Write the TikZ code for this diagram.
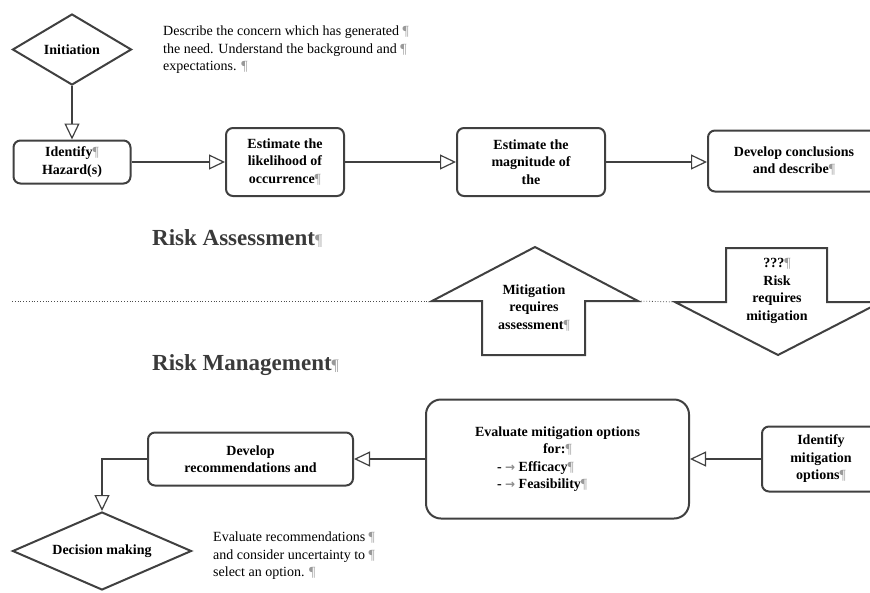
\documentclass[tikz,border=0pt]{standalone}
\usepackage{fontspec}
\setmainfont{Liberation Serif}
\newfontfamily\dejavu{DejaVu Sans}
\usepackage{tikz}
\usetikzlibrary{arrows.meta, positioning, shapes.geometric}

\definecolor{linegray}{HTML}{404040}
\definecolor{headgray}{HTML}{3A3A3A}
\newcommand{\pil}{{\mdseries\color{black!40}¶}}
\newcommand{\tabarrow}{{\color{black!45}\dejavu\fontsize{12}{12}\selectfont →}}

\begin{document}
\begin{tikzpicture}[x=1pt, y=-1pt,
            process/.style={draw=linegray, line width=2pt, rounded corners=7pt, fill=white, align=center, inner sep=2pt, font=\bfseries\fontsize{14}{17.5}\selectfont},
            choice/.style={diamond, draw=linegray, line width=2pt, fill=white, inner sep=0pt, font=\bfseries\fontsize{14}{17}\selectfont},
            note/.style={align=left, inner sep=0pt, font=\fontsize{14}{17.5}\selectfont},
            arrowtext/.style={align=center, inner sep=0pt, font=\bfseries\fontsize{14}{17.5}\selectfont},
            heading/.style={inner sep=0pt, text=headgray, font=\bfseries\fontsize{23}{26}\selectfont},
            flow/.style={draw=linegray, line width=2pt, -{Triangle[open, length=16pt, width=15pt, line width=1.2pt]}},
            blockarrow/.style={draw=linegray, line width=2pt, fill=white, line join=miter},
            separator/.style={draw=black!70, dotted, line width=0.8pt}]

            \useasboundingbox (0,0) rectangle (870,592);
            \clip (0,0) rectangle (870,592);

            % Risk assessment row
            \node[choice, aspect=1.67, minimum width=119pt, minimum height=71pt] (initiation) at (72,49.5) {Initiation};
            \node[note, anchor=north west] (concern) at (163,26) {Describe the concern which has generated \pil\\the need. Understand the background and \pil\\expectations. \pil};

            \node[process, minimum width=117pt, minimum height=43pt] (hazard) at (72,162) {Identify\pil\\Hazard(s)};
            \node[process, minimum width=118pt, minimum height=68pt] (likelihood) at (285,162) {Estimate the\\likelihood of\\occurrence\pil};
            \node[process, minimum width=148pt, minimum height=68pt] (magnitude) at (531,162) {Estimate the\\magnitude of\\the};
            \node[process, minimum width=172pt, minimum height=61pt] (conclusions) at (794,161) {Develop conclusions\\and describe\pil};

            \draw[flow] (initiation.south) -- (hazard.north);
            \draw[flow] (hazard) -- (likelihood);
            \draw[flow] (likelihood) -- (magnitude);
            \draw[flow] (magnitude) -- (conclusions.west |- magnitude);

            % Headings and the dividing line
            \node[heading, anchor=base west] (assess) at (152,245) {Risk Assessment{\fontsize{16}{16}\selectfont\pil}};
            \node[heading, anchor=base west] (manage) at (152,370) {Risk Management{\fontsize{16}{16}\selectfont\pil}};

            \coordinate (sepL) at (12,301);
            \draw[blockarrow] (432,301) coordinate (upL) -- (535,247) -- (638,301) coordinate (upR) -- (585,301) -- (585,355) -- (482,355) -- (482,301) -- cycle;
            \node[arrowtext] (mitneeds) at (534,308) {Mitigation\\requires\\assessment\pil};
            \draw[blockarrow] (675,302) coordinate (downL) -- (726,302) -- (726,248) -- (827,248) -- (827,302) -- (881,302) -- (778,355) -- cycle;
            \node[arrowtext] (riskneeds) at (777,291) {???\pil\\Risk\\requires\\mitigation};

            \draw[separator] (sepL) -- (upL);
            \draw[separator] (upR) -- (downL);

            % Risk management row
            \node[process, minimum width=118pt, minimum height=65pt] (mitopts) at (821,459) {Identify\\mitigation\\options\pil};
            \node[process, rounded corners=15pt, minimum width=263pt, minimum height=119pt] (evaluate) at (557.5,459) {Evaluate mitigation options\\for:\pil\\\makebox[121pt][l]{- \tabarrow\ Efficacy\pil}\\\makebox[121pt][l]{- \tabarrow\ Feasibility\pil}};
            \node[process, minimum width=205pt, minimum height=53pt] (recommend) at (250.5,459) {Develop\\recommendations and};
            \node[choice, aspect=2.3, minimum width=179pt, minimum height=78pt] (decision) at (102,551) {Decision making};
            \node[note, anchor=north west] (evalnote) at (213,532) {Evaluate recommendations \pil\\and consider uncertainty to \pil\\select an option. \pil};

            \draw[flow] (mitopts) -- (evaluate);
            \draw[flow] (evaluate) -- (recommend);
            \draw[flow] (recommend.west) -| (decision.north);
        \end{tikzpicture}
\end{document}
